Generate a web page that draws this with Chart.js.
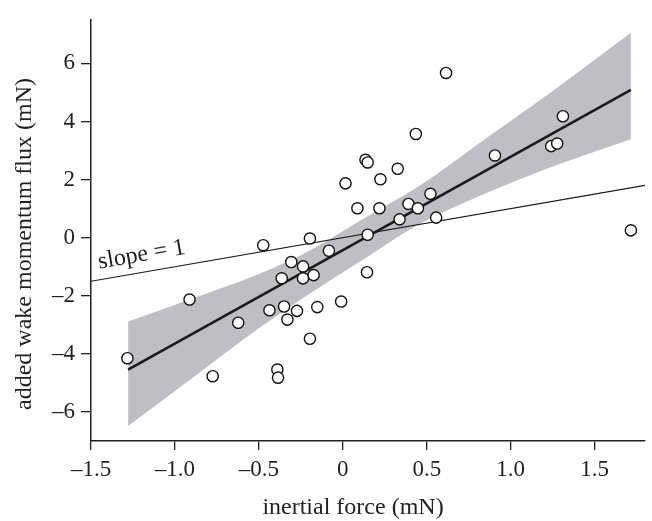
<!DOCTYPE html>
<html><head><meta charset="utf-8">
<script src="https://cdn.jsdelivr.net/npm/chart.js@4/dist/chart.umd.min.js"></script>
<style>html,body{margin:0;padding:0;background:#fff}#wrap{width:652px;height:521px}</style>
</head><body><div id="wrap"><canvas id="c" width="652" height="521"></canvas></div>
<script>
const inertialForce = [-1.283,-0.913,-0.775,-0.623,-0.474,-0.39,-0.386,-0.437,-0.35,-0.33,-0.364,-0.307,-0.237,-0.237,-0.174,-0.273,-0.152,-0.196,-0.196,-0.083,-0.01,0.144,0.148,0.338,0.556,0.391,0.447,0.522,0.087,0.218,0.016,0.224,0.327,0.135,0.148,0.435,0.615,0.906,1.241,1.277,1.311,1.716];
const wakeFlux = [-4.15,-2.13,-4.77,-2.93,-0.26,-4.54,-4.82,-2.50,-2.37,-2.82,-1.40,-0.84,-0.99,-1.40,-1.29,-2.52,-2.39,-3.48,-0.03,-0.45,-2.2,-1.19,0.10,0.63,0.69,1.16,1.01,1.51,1.01,1.01,1.87,2.01,2.37,2.68,2.59,3.57,5.67,2.83,3.15,3.24,4.18,0.25];
const fitX = [-1.279, 1.716];
const fitY = [-4.54, 5.09];
const bandX = [-1.279,-0.9,-0.5,-0.2,0.15,0.45,0.8,1.25,1.716];
const bandUpper = [-2.89,-2.1,-1.25,-0.45,0.75,1.76,3.2,5.05,7.05];
const bandLower = [-6.48,-4.85,-3.12,-1.94,-0.65,0.45,1.4,2.45,3.39];
const unitX = [-1.5, 1.8];
const unitY = [-1.5, 1.8];
const xTicks = [-1.5,-1,-0.5,0,0.5,1,1.5];
const xTickLabels = ['\u20131.5','\u20131.0','\u20130.5','0','0.5','1.0','1.5'];
const yTicks = [-6,-4,-2,0,2,4,6];
const yTickLabels = ['\u20136','\u20134','\u20132','0','2','4','6'];
const xTitle = 'inertial force (mN)';
const yTitle = 'added wake momentum flux (mN)';
const unitLabel = 'slope = 1';

const ink = '#231f20';
const FONT = '"Liberation Serif", "Times New Roman", serif';
const zip = (a,b) => a.map((v,i)=>({x:v,y:b[i]}));

const textPlugin = {
  id: 'texts',
  afterDatasetsDraw(chart) {
    const {ctx, scales:{x,y}} = chart;
    ctx.save();
    ctx.fillStyle = ink;
    ctx.font = '24px ' + FONT;
    const x0 = x.getPixelForValue(unitX[0]), y0 = y.getPixelForValue(unitY[0]);
    const x1 = x.getPixelForValue(unitX[1]), y1 = y.getPixelForValue(unitY[1]);
    const ang = Math.atan2(y1-y0, x1-x0);
    const ax = x.getPixelForValue(-1.44), ay = y.getPixelForValue(-1.44);
    ctx.translate(ax, ay);
    ctx.rotate(ang);
    ctx.textAlign = 'left';
    ctx.textBaseline = 'alphabetic';
    ctx.fillText(unitLabel, 0, -11);
    ctx.restore();
  },
  afterDraw(chart) {
    const {ctx} = chart;
    ctx.save();
    ctx.fillStyle = ink;
    ctx.font = '24px ' + FONT;
    ctx.textAlign = 'center';
    ctx.textBaseline = 'middle';
    ctx.fillText(xTitle, 353, 508);
    ctx.translate(25, 244);
    ctx.rotate(-Math.PI/2);
    ctx.fillText(yTitle, 0, 0);
    ctx.restore();
  }
};

new Chart(document.getElementById('c'), {
  type: 'scatter',
  data: {
    datasets: [
      { type:'scatter', data: zip(inertialForce, wakeFlux), order: 0,
        pointRadius: 5.6, pointBackgroundColor:'#fff', pointBorderColor:'#111', pointBorderWidth:1.4 },
      { type:'line', data: zip(fitX, fitY), order: 1, borderColor:'#1a1a1a', borderWidth:2.6, pointRadius:0, fill:false },
      { type:'line', data: zip(unitX, unitY), order: 2, borderColor:'#1a1a1a', borderWidth:1.1, pointRadius:0, fill:false },
      { type:'line', data: zip(bandX, bandLower), order: 3, borderWidth:0, borderColor:'rgba(0,0,0,0)', pointRadius:0, fill:false, cubicInterpolationMode:'monotone' },
      { type:'line', data: zip(bandX, bandUpper), order: 4, borderWidth:0, borderColor:'rgba(0,0,0,0)', pointRadius:0, fill:{target:3}, backgroundColor:'#bebfc2', cubicInterpolationMode:'monotone' }
    ]
  },
  options: {
    responsive:false, animation:false, devicePixelRatio:1,
    layout:{ padding:{ left:0, right:4, top:9, bottom:0 } },
    plugins:{ legend:{display:false}, tooltip:{enabled:false} },
    scales:{
      x:{ type:'linear', min:-1.5, max:1.8,
        afterBuildTicks: s => { s.ticks = xTicks.map(v=>({value:v})); },
        afterFit: s => { s.height = 80; },
        grid:{ display:true, drawOnChartArea:false, drawTicks:true, tickLength:9, color:ink, lineWidth:1.3 },
        border:{ display:true, color:ink, width:1.5 },
        ticks:{ color:ink, font:{ family:FONT, size:23 }, padding:6, maxRotation:0, autoSkip:false,
          callback: v => xTickLabels[xTicks.indexOf(v)] }
      },
      y:{ type:'linear', min:-7, max:7.5,
        afterBuildTicks: s => { s.ticks = yTicks.map(v=>({value:v})); },
        afterFit: s => { s.width = 91; },
        grid:{ display:true, drawOnChartArea:false, drawTicks:true, tickLength:10, color:ink, lineWidth:1.3 },
        border:{ display:true, color:ink, width:1.5 },
        ticks:{ color:ink, font:{ family:FONT, size:23 }, padding:6, autoSkip:false,
          callback: v => yTickLabels[yTicks.indexOf(v)] }
      }
    }
  },
  plugins:[textPlugin]
});
</script></body></html>
